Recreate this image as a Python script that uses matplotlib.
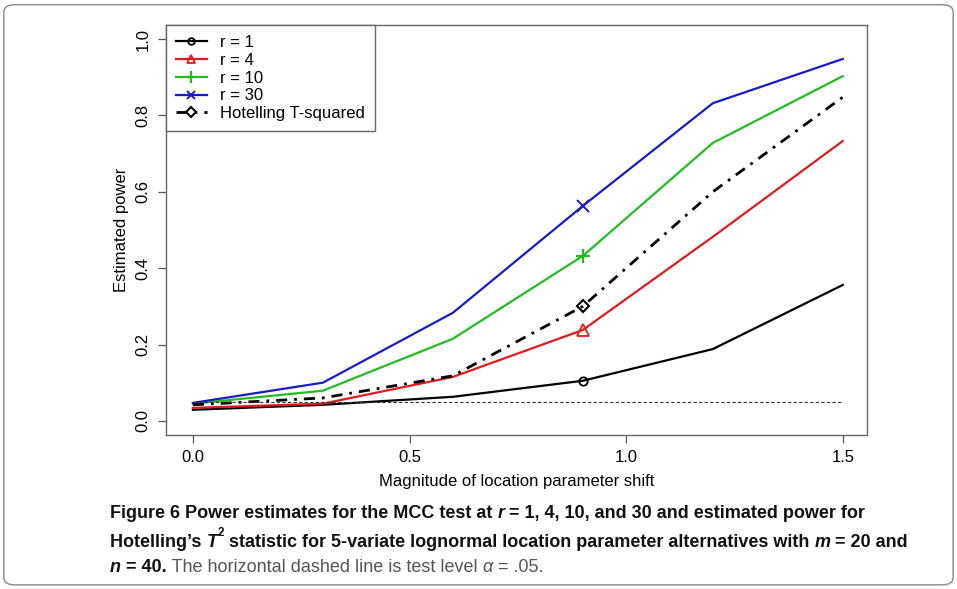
import numpy as np
import matplotlib
matplotlib.use("Agg")
import matplotlib.pyplot as plt
from matplotlib.patches import FancyBboxPatch

# data
shift = [0.0, 0.3, 0.6, 0.9, 1.2, 1.5]
power_r1 = [0.029, 0.042, 0.063, 0.105, 0.188, 0.356]
power_r4 = [0.034, 0.045, 0.115, 0.238, 0.482, 0.733]
power_r10 = [0.045, 0.079, 0.215, 0.432, 0.728, 0.903]
power_r30 = [0.047, 0.100, 0.283, 0.563, 0.832, 0.948]
power_hotelling = [0.042, 0.060, 0.118, 0.300, 0.600, 0.848]
alpha_level = 0.05

plt.rcParams['font.family'] = ['Liberation Sans', 'DejaVu Sans']

fig = plt.figure(figsize=(9.57, 5.89), dpi=100)
ax = fig.add_axes([0.1735, 0.2615, 0.7325, 0.6961])

# marker only at the 0.9 point, like the original
mk = [3]
ax.plot(shift, power_r1, color='black', lw=1.6, marker='o', ms=6, mfc='none', mew=1.3, markevery=mk, label='r = 1')
ax.plot(shift, power_r4, color='#dd1c1c', lw=1.6, marker='^', ms=8, mfc='none', mew=1.3, markevery=mk, label='r = 4')
ax.plot(shift, power_r10, color='#22bb22', lw=1.6, marker='+', ms=10, mew=1.6, markevery=mk, label='r = 10')
ax.plot(shift, power_r30, color='#1a1ac8', lw=1.6, marker='x', ms=8, mew=1.4, markevery=mk, label='r = 30')
ax.plot(shift, power_hotelling, color='black', lw=2.0, ls=(0, (4, 2.5, 1, 2.5)), marker='D', ms=6.5, mfc='none', mew=1.5, markevery=mk, label='Hotelling T-squared')
ax.plot([shift[0], shift[-1]], [alpha_level, alpha_level], color='#333333', lw=0.8, ls=(0, (3, 2)))

ax.set_xlim(-0.062, 1.556)
ax.set_ylim(-0.037, 1.037)
ax.set_xticks([0.0, 0.5, 1.0, 1.5])
ax.set_xticklabels(['0.0', '0.5', '1.0', '1.5'])
ax.set_yticks([0.0, 0.2, 0.4, 0.6, 0.8, 1.0])
ax.set_yticklabels(['0.0', '0.2', '0.4', '0.6', '0.8', '1.0'], rotation=90, va='center')
ax.tick_params(labelsize=12, length=6, width=0.9, color='#555555')
ax.tick_params(axis='x', pad=5)
ax.tick_params(axis='y', pad=5)
for s in ax.spines.values():
    s.set_color('#666666')
    s.set_linewidth(1.0)
ax.set_xlabel('Magnitude of location parameter shift', fontsize=12, labelpad=6)
ax.set_ylabel('Estimated power', fontsize=12, labelpad=5)

# legend in the top left corner, R style
leg = ax.legend(loc='upper left', borderaxespad=0, fancybox=False, edgecolor='#666666',
                fontsize=12, handlelength=1.85, labelspacing=0.17, handletextpad=0.8,
                borderpad=0.6, markerscale=0.8, framealpha=1)
leg.get_frame().set_linewidth(1.0)

# outer rounded border
fig.patches.append(FancyBboxPatch((0.004, 0.007), 0.992, 0.985, boxstyle='round,pad=0,rounding_size=0.012',
                                  transform=fig.transFigure, fill=False, edgecolor='#888888', lw=1.0))

# caption with bold / italic runs, placed piece by piece
cap_font = ['Liberation Sans Narrow', 'Liberation Sans', 'DejaVu Sans']
lines = [
    [("Figure 6", 'bold', 'normal', '#111111'),
     (" Power estimates for the MCC test at ", 'bold', 'normal', '#111111'),
     ("r", 'bold', 'italic', '#111111'),
     (" = 1, 4, 10, and 30 and estimated power for", 'bold', 'normal', '#111111')],
    [("Hotelling\u2019s ", 'bold', 'normal', '#111111'),
     ("T", 'bold', 'italic', '#111111'),
     ("2", 'bold', 'normal', 'sup'),
     (" statistic for 5-variate lognormal location parameter alternatives with ", 'bold', 'normal', '#111111'),
     ("m", 'bold', 'italic', '#111111'),
     (" = 20 and", 'bold', 'normal', '#111111')],
    [("n", 'bold', 'italic', '#111111'),
     (" = 40.", 'bold', 'normal', '#111111'),
     (" The horizontal dashed line is test level ", 'normal', 'normal', '#555555'),
     ("\u03b1", 'normal', 'italic', '#555555'),
     (" = .05.", 'normal', 'normal', '#555555')],
]
line_y = [0.121, 0.072, 0.029]
renderer = fig.canvas.get_renderer()
for segs, y in zip(lines, line_y):
    x = 0.115
    for txt, w, st, col in segs:
        size = 13
        yy = y
        if col == 'sup':
            col = '#111111'
            size = 8.5
            yy = y + 0.018
        t = fig.text(x, yy, txt, fontsize=size, fontweight=w, fontstyle=st, color=col,
                     family=cap_font, ha='left', va='baseline')
        bb = t.get_window_extent(renderer=renderer)
        x += bb.width / fig.bbox.width

fig.savefig('out.png', dpi=100)
